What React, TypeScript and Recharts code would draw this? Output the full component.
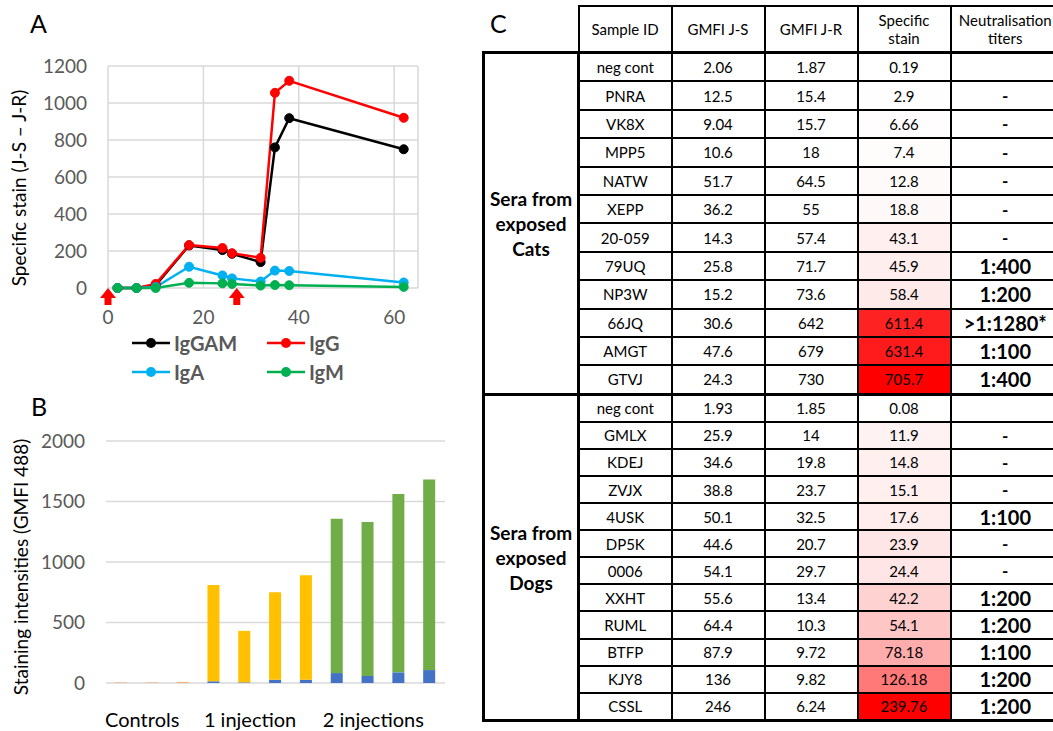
import React from 'react'
import {
  LineChart,
  Line,
  BarChart,
  Bar,
  XAxis,
  YAxis,
  CartesianGrid,
  ReferenceDot,
} from 'recharts'

// ---- Panel A: specific stain over time (days)
const days = [2, 6, 10, 17, 24, 26, 32, 35, 38, 62]
const igGAM = [0, 0, 15, 230, 205, 185, 140, 760, 918, 750]
const igG = [0, 0, 22, 232, 216, 188, 163, 1055, 1120, 920]
const igA = [0, 0, 5, 115, 68, 52, 35, 94, 92, 30]
const igM = [0, 0, 0, 28, 25, 22, 13, 16, 15, 6]
const injectionDays = [0, 27]
const dayTicks = [0, 20, 40, 60]
const stainTicks = [0, 200, 400, 600, 800, 1000, 1200]

// ---- Panel B: staining intensities per serum
const barSamples = ['c1', 'c2', 'c3', 'a1', 'a2', 'a3', 'a4', 'b1', 'b2', 'b3', 'b4']
const barBase = [0, 0, 0, 14, 5, 27, 27, 82, 58, 88, 107]
const barControl = [5, 5, 9, 0, 0, 0, 0, 0, 0, 0, 0]
const barOneInjection = [0, 0, 0, 796, 426, 723, 863, 0, 0, 0, 0]
const barTwoInjections = [0, 0, 0, 0, 0, 0, 0, 1275, 1272, 1475, 1574]
const groupLabels = ['Controls', '1 injection', '2 injections']
const groupStart = [0, 3, 7]
const groupSize = [3, 4, 4]
const intensityTicks = [0, 500, 1000, 1500, 2000]

// ---- Panel C: table
const catIds = ['neg cont', 'PNRA', 'VK8X', 'MPP5', 'NATW', 'XEPP', '20-059', '79UQ', 'NP3W', '66JQ', 'AMGT', 'GTVJ']
const catJS = ['2.06', '12.5', '9.04', '10.6', '51.7', '36.2', '14.3', '25.8', '15.2', '30.6', '47.6', '24.3']
const catJR = ['1.87', '15.4', '15.7', '18', '64.5', '55', '57.4', '71.7', '73.6', '642', '679', '730']
const catSpec = ['0.19', '2.9', '6.66', '7.4', '12.8', '18.8', '43.1', '45.9', '58.4', '611.4', '631.4', '705.7']
const catTiter = ['', '-', '-', '-', '-', '-', '-', '1:400', '1:200', '>1:1280*', '1:100', '1:400']

const dogIds = ['neg cont', 'GMLX', 'KDEJ', 'ZVJX', '4USK', 'DP5K', '0006', 'XXHT', 'RUML', 'BTFP', 'KJY8', 'CSSL']
const dogJS = ['1.93', '25.9', '34.6', '38.8', '50.1', '44.6', '54.1', '55.6', '64.4', '87.9', '136', '246']
const dogJR = ['1.85', '14', '19.8', '23.7', '32.5', '20.7', '29.7', '13.4', '10.3', '9.72', '9.82', '6.24']
const dogSpec = ['0.08', '11.9', '14.8', '15.1', '17.6', '23.9', '24.4', '42.2', '54.1', '78.18', '126.18', '239.76']
const dogTiter = ['', '-', '-', '-', '1:100', '-', '-', '1:200', '1:200', '1:100', '1:200', '1:200']

const lineData = days.map((d, i) => ({
  day: d,
  IgGAM: igGAM[i],
  IgG: igG[i],
  IgA: igA[i],
  IgM: igM[i],
}))

const barData = barSamples.map((s, i) => ({
  id: s,
  base: barBase[i],
  control: barControl[i],
  one: barOneInjection[i],
  two: barTwoInjections[i],
}))

const SERIES = [
  { key: 'IgGAM', color: '#000000' },
  { key: 'IgG', color: '#ff0000' },
  { key: 'IgA', color: '#00b0f0' },
  { key: 'IgM', color: '#00b050' },
]

const GRID = '#d9d9d9'
const TICK = { fontSize: 19, fill: '#595959' }

function AxisTitle(props: any) {
  const { viewBox, text, cx, shift } = props
  const vb = viewBox || { y: 0, height: 0 }
  const cy = vb.y + vb.height / 2 + shift
  return (
    <text
      x={cx}
      y={cy}
      transform={`rotate(-90 ${cx} ${cy})`}
      textAnchor="middle"
      dominantBaseline="central"
      fontSize={19}
      fill="#000"
    >
      {text}
    </text>
  )
}

// red arrow under the axis marking an injection
const InjectionArrow = (props: any) => {
  const { cx, cy } = props
  if (cx == null || cy == null) return null
  const pts = [
    [cx, cy],
    [cx + 8, cy + 10],
    [cx + 3.5, cy + 10],
    [cx + 3.5, cy + 17],
    [cx - 3.5, cy + 17],
    [cx - 3.5, cy + 10],
    [cx - 8, cy + 10],
  ]
  return <polygon points={pts.map((p) => p.join(',')).join(' ')} fill="#ff0000" />
}

const BAND = 339 / barSamples.length

const GroupTick = (props: any) => {
  const { x, y, index } = props
  const g = groupStart.indexOf(index)
  if (g < 0) return null
  const cx = x + ((groupSize[g] - 1) / 2) * BAND - 10
  return (
    <text x={cx} y={y + 44} textAnchor="middle" fontSize={20} fill="#000">
      {groupLabels[g]}
    </text>
  )
}

function LegendA() {
  const rows = [SERIES.slice(0, 2), SERIES.slice(2, 4)]
  return (
    <div style={{ position: 'absolute', left: 0, top: 0 }}>
      {rows.map((row, r) =>
        row.map((s, c) => (
          <div
            key={s.key}
            style={{
              position: 'absolute',
              left: c === 0 ? 132 : 267,
              top: (r === 0 ? 343 : 372) - 13,
              height: 26,
              display: 'flex',
              alignItems: 'center',
              whiteSpace: 'nowrap',
            }}
          >
            <svg width={40} height={26}>
              <line x1={0} x2={38} y1={13} y2={13} stroke={s.color} strokeWidth={2.5} />
              <circle cx={19} cy={13} r={5} fill={s.color} />
            </svg>
            <span style={{ fontSize: 20, fontWeight: 700, color: '#595959', marginLeft: 2 }}>{s.key}</span>
          </div>
        ))
      )}
    </div>
  )
}

function redShade(value: string, values: string[]) {
  const nums = values.map(Number)
  const lo = Math.min(...nums)
  const hi = Math.max(...nums)
  const t = (Number(value) - lo) / (hi - lo)
  const gb = Math.round(255 * (1 - t))
  return `rgb(255,${gb},${gb})`
}

const THIN = '2px solid #000'
const THICK = '3px solid #000'

function TableSection(props: {
  title: string[]
  ids: string[]
  js: string[]
  jr: string[]
  spec: string[]
  titer: string[]
  rowH: number
}) {
  const { title, ids, js, jr, spec, titer, rowH } = props
  const n = ids.length
  return (
    <>
      {ids.map((id, i) => {
        const top = i === 0 ? THICK : THIN
        const bottom = i === n - 1 ? THICK : THIN
        const cell: React.CSSProperties = {
          borderTop: top,
          borderBottom: bottom,
          borderLeft: THIN,
          borderRight: THIN,
          textAlign: 'center',
          padding: 0,
          fontSize: 15,
          height: rowH,
        }
        const isDash = titer[i] === '-'
        return (
          <tr key={id + i}>
            {i === 0 && (
              <td
                rowSpan={n}
                style={{
                  border: THICK,
                  textAlign: 'center',
                  fontWeight: 700,
                  fontSize: 19,
                  lineHeight: '25px',
                  padding: 0,
                }}
              >
                {title.map((t) => (
                  <div key={t}>{t}</div>
                ))}
              </td>
            )}
            <td style={cell}>{id}</td>
            <td style={cell}>{js[i]}</td>
            <td style={cell}>{jr[i]}</td>
            <td style={{ ...cell, background: redShade(spec[i], spec) }}>{spec[i]}</td>
            <td
              style={{
                ...cell,
                borderRight: THICK,
                fontWeight: 700,
                fontSize: isDash ? 17 : 20,
              }}
            >
              {titer[i]}
            </td>
          </tr>
        )
      })}
    </>
  )
}

function TableC() {
  const head: React.CSSProperties = {
    border: THIN,
    borderTop: '2.5px solid #000',
    textAlign: 'center',
    fontSize: 15,
    fontWeight: 400,
    lineHeight: '18px',
    padding: 0,
    height: 44,
  }
  return (
    <table
      style={{
        position: 'absolute',
        left: 482,
        top: 5,
        borderCollapse: 'collapse',
        tableLayout: 'fixed',
        width: 577,
        color: '#000',
      }}
    >
      <colgroup>
        <col style={{ width: 95 }} />
        <col style={{ width: 93 }} />
        <col style={{ width: 93 }} />
        <col style={{ width: 93 }} />
        <col style={{ width: 93 }} />
        <col style={{ width: 110 }} />
      </colgroup>
      <thead>
        <tr>
          <th style={{ border: 'none', padding: 0 }} />
          <th style={head}>Sample ID</th>
          <th style={head}>GMFI J-S</th>
          <th style={head}>GMFI J-R</th>
          <th style={head}>
            Specific
            <br />
            stain
          </th>
          <th style={{ ...head, borderRight: THICK }}>
            Neutralisation
            <br />
            titers
          </th>
        </tr>
      </thead>
      <tbody>
        <TableSection
          title={['Sera from', 'exposed', 'Cats']}
          ids={catIds}
          js={catJS}
          jr={catJR}
          spec={catSpec}
          titer={catTiter}
          rowH={26.4}
        />
        <TableSection
          title={['Sera from', 'exposed', 'Dogs']}
          ids={dogIds}
          js={dogJS}
          jr={dogJR}
          spec={dogSpec}
          titer={dogTiter}
          rowH={25.1}
        />
      </tbody>
    </table>
  )
}

const panelLabel: React.CSSProperties = {
  position: 'absolute',
  fontSize: 25,
  color: '#000',
  lineHeight: 1,
}

export default function App() {
  return (
    <div
      style={{
        position: 'absolute',
        left: 0,
        top: 0,
        width: 1053,
        height: 731,
        overflow: 'hidden',
        background: '#fff',
        fontFamily: 'Lato, "Open Sans", sans-serif',
      }}
    >
      <div style={{ ...panelLabel, left: 30, top: 11 }}>A</div>
      <div style={{ ...panelLabel, left: 31, top: 394 }}>B</div>
      <div style={{ ...panelLabel, left: 490, top: 11 }}>C</div>

      <div style={{ position: 'absolute', left: 0, top: 0 }}>
        <LineChart width={430} height={330} data={lineData} margin={{ top: 66, right: 12, left: 0, bottom: 12 }}>
          <CartesianGrid stroke={GRID} strokeWidth={1.5} />
          <XAxis
            dataKey="day"
            type="number"
            domain={[0, 65]}
            ticks={dayTicks}
            axisLine={false}
            tickLine={false}
            tickMargin={17}
            height={30}
            tick={TICK}
          />
          <YAxis
            domain={[0, 1200]}
            ticks={stainTicks}
            width={108}
            axisLine={false}
            tickLine={false}
            tickMargin={15}
            tick={TICK}
            label={<AxisTitle text="Specific stain (J-S – J-R)" cx={18} shift={11} />}
          />
          {SERIES.map((s) => (
            <Line
              key={s.key}
              type="linear"
              dataKey={s.key}
              stroke={s.color}
              strokeWidth={2.5}
              dot={{ r: 4.5, fill: s.color, stroke: s.color, strokeWidth: 1 }}
              isAnimationActive={false}
            />
          ))}
          {injectionDays.map((d) => (
            <ReferenceDot key={d} x={d} y={0} r={0} shape={InjectionArrow} />
          ))}
        </LineChart>
      </div>
      <LegendA />

      <div style={{ position: 'absolute', left: 0, top: 380 }}>
        <BarChart width={460} height={351} data={barData} margin={{ top: 61, right: 15, left: 0, bottom: 8 }}>
          <CartesianGrid vertical={false} stroke={GRID} strokeWidth={1.5} />
          <XAxis
            dataKey="id"
            axisLine={false}
            tickLine={false}
            tickSize={0}
            tickMargin={0}
            height={40}
            interval={0}
            tick={<GroupTick />}
          />
          <YAxis
            domain={[0, 2000]}
            ticks={intensityTicks}
            width={106}
            axisLine={false}
            tickLine={false}
            tickMargin={15}
            tick={TICK}
            label={<AxisTitle text="Staining intensities (GMFI 488)" cx={20} shift={5} />}
          />
          <Bar dataKey="base" stackId="s" fill="#4472c4" barSize={12} isAnimationActive={false} />
          <Bar dataKey="control" stackId="s" fill="#f4b183" barSize={12} isAnimationActive={false} />
          <Bar dataKey="one" stackId="s" fill="#ffc000" barSize={12} isAnimationActive={false} />
          <Bar dataKey="two" stackId="s" fill="#70ad47" barSize={12} isAnimationActive={false} />
        </BarChart>
      </div>

      <TableC />
    </div>
  )
}
